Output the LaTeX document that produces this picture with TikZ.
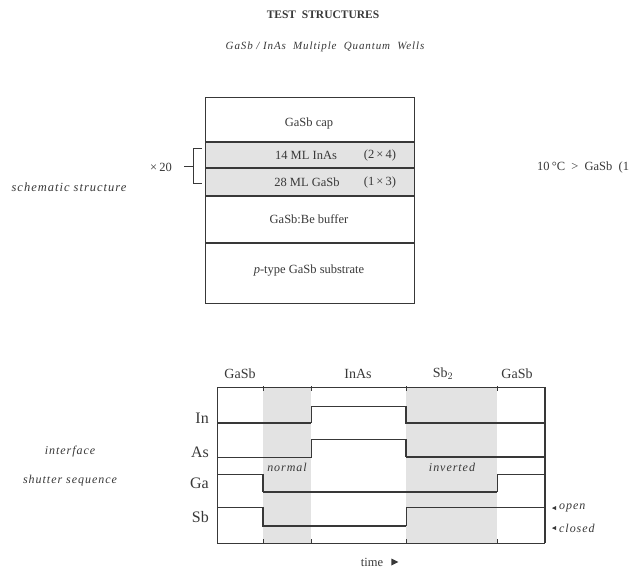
\documentclass[tikz,border=0pt]{standalone}
\usepackage{fontspec}
\setmainfont{Liberation Serif}
\usetikzlibrary{arrows.meta, positioning}
\definecolor{layergray}{gray}{0.89}
\definecolor{ink}{gray}{0.22}

\begin{document}
\begin{tikzpicture}[x=1pt, y=-1pt,
    every node/.style={inner sep=0pt, text=ink},
    layer/.style={font=\fontsize{12.5}{14}\selectfont},
    gas/.style={font=\fontsize{16}{18}\selectfont, anchor=east},
    head/.style={font=\fontsize{14}{16}\selectfont},
    note/.style={font=\fontsize{12}{14}\selectfont\itshape\addfontfeatures{LetterSpace=8}},
    open/.style={ink, line width=0.9pt},
    closed/.style={ink, line width=1.8pt}]
    \useasboundingbox (0,0) rectangle (644,569);

    % Title
    \node (title) at (323,15) {\fontsize{11.5}{13}\selectfont\bfseries TEST\ \ STRUCTURES};
    \node (sub) at (325,47) [note, font=\fontsize{11}{13}\selectfont\itshape\addfontfeatures{LetterSpace=8}] {GaSb / InAs\ \ Multiple\ \ Quantum\ \ Wells};

    % Layer stack
    \fill[layergray] (205,142) rectangle (414,196);
    \draw[ink, line width=0.9pt] (205,97) rectangle (414,303);
    \foreach \y in {142,168,196} \draw[ink, line width=1.5pt] (205,\y) -- (414,\y);
    \draw[ink, line width=1.2pt] (205,243) -- (414,243);

    \node (cap) at (309,123) [layer] {GaSb cap};
    \node (inas) at (306,155) [layer] {14 ML InAs};
    \node (inasr) at (380,155) [layer] {(2\,×\,4)};
    \node (gasb) at (307,182) [layer] {28 ML GaSb};
    \node (gasbr) at (380,182) [layer] {(1\,×\,3)};
    \node (buffer) at (309,219) [layer] {GaSb:Be buffer};
    \node (subst) at (309,271) [layer] {\textit{p}-type GaSb substrate};

    % Period bracket
    \draw[ink, line width=1pt] (202,149) -- (193,149) -- (193,184) -- (202,184);
    \draw[ink, line width=1pt] (184,167) -- (193,167);
    \node (period) at (161,167) [layer] {×\,20};
    \node (temp) at (537,167) [layer, anchor=west] {10\,°C\ \ >\ \ GaSb\ \ (1};
    \node (schem) at (69,187) [note, font=\fontsize{12.5}{14}\selectfont\itshape\addfontfeatures{LetterSpace=8}] {schematic structure};

    % Shutter sequence
    \fill[layergray] (263,387) rectangle (311,543);
    \fill[layergray] (406,387) rectangle (497,543);
    \draw[ink, line width=0.9pt] (217,387) -- (545,387);
    \draw[ink, line width=0.9pt] (217,543) -- (545,543);
    \draw[ink, line width=0.9pt] (217,387) -- (217,543);
    \draw[ink, line width=1.5pt] (545,387) -- (545,543);
    \foreach \x in {263,311,406,497} {
        \draw[ink, line width=1pt] (\x,386) -- (\x,391);
        \draw[ink, line width=1pt] (\x,539) -- (\x,544);
    }

    \node (c1) at (240,374) [head] {GaSb};
    \node (c2) at (358,374) [head] {InAs};
    \node (c3) at (443,374) [head] {Sb$_2$};
    \node (c4) at (517,374) [head] {GaSb};

    \node (in) at (209,418) [gas] {In};
    \node (as) at (209,452) [gas] {As};
    \node (ga) at (209,483) [gas] {Ga};
    \node (sb) at (209,517) [gas] {Sb};

    % In
    \draw[closed] (217,423) -- (311,423);
    \draw[open] (311,423) -- (311,406) -- (406,406);
    \draw[closed] (406,406) -- (406,423) -- (545,423);
    % As
    \draw[open] (217,457) -- (311,457) -- (311,439) -- (406,439);
    \draw[closed] (406,439) -- (406,457);
    \draw[ink, line width=1.3pt] (406,457) -- (545,457);
    % Ga
    \draw[open] (217,474) -- (263,474);
    \draw[closed] (263,474) -- (263,492);
    \draw[ink, line width=1.4pt] (263,492) -- (497,492);
    \draw[open] (497,492) -- (497,474) -- (545,474);
    % Sb
    \draw[open] (217,507) -- (263,507);
    \draw[closed] (263,507) -- (263,526) -- (406,526);
    \draw[open] (406,526) -- (406,507) -- (545,507);

    \node (normal) at (287,467) [note] {normal};
    \node (inverted) at (452,467) [note] {inverted};

    \node (iface) at (70,452) [note] {interface};
    \node (shutter) at (70,481) [note] {shutter sequence};

    % State key
    \node (open) at (559,508) [note, anchor=west] {open};
    \node (closed) at (559,528) [note, anchor=west] {closed};
    \fill[ink] ([xshift=-3pt]open.west) -- ++(-4,0) -- ++(4,-2) -- cycle;
    \fill[ink] ([xshift=-3pt]open.west) -- ++(-4,0) -- ++(4,2) -- cycle;
    \fill[ink] ([xshift=-3pt]closed.west) -- ++(-4,0) -- ++(4,-2) -- cycle;
    \fill[ink] ([xshift=-3pt]closed.west) -- ++(-4,0) -- ++(4,2) -- cycle;

    \node (time) at (372,562) [layer] {time};
    \fill[ink] ([xshift=8pt]time.east) -- ++(0,-3.5) -- ++(7,3.5) -- ++(-7,3.5) -- cycle;
\end{tikzpicture}
\end{document}
